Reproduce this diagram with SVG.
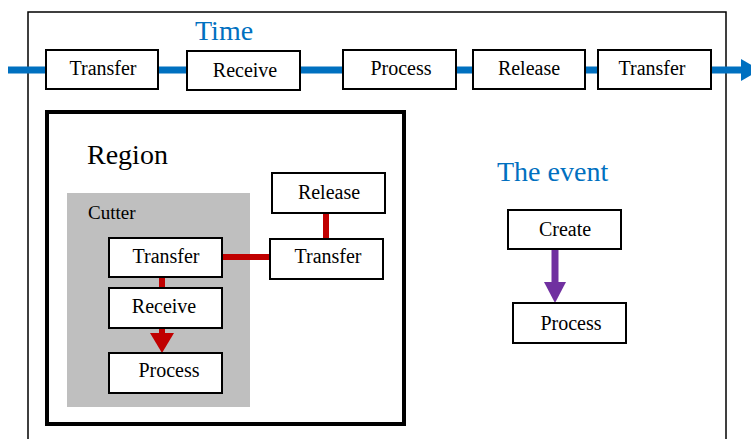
<svg xmlns="http://www.w3.org/2000/svg" width="751" height="439" viewBox="0 0 751 439">
<style>
.box{fill:#fff;stroke:#000;stroke-width:2}
.t{font-family:"Liberation Serif","Times New Roman",serif;font-size:20px;fill:#000;text-anchor:middle}
.title{font-family:"Liberation Serif","Times New Roman",serif;font-size:28px}
.blue{fill:#0070C0}
.red{stroke:#C00000;stroke-width:6;fill:none}
</style>
<rect width="751" height="439" fill="#fff"/>
<rect id="frame" x="28" y="12" width="698" height="440" fill="none" stroke="#000" stroke-width="1.5"/>
<text class="title blue" x="195" y="40">Time</text>
<g id="region">
<rect x="47" y="112" width="357" height="312" fill="none" stroke="#000" stroke-width="4"/>
<text class="title" x="87" y="164" fill="#000">Region</text>
</g>
<g id="cutter">
<rect x="67" y="193" width="183" height="214" fill="#BFBFBF"/>
<text x="88" y="219" font-family="Liberation Serif,serif" font-size="19" fill="#000">Cutter</text>
</g>
<g id="connectors">
<line x1="8" y1="70" x2="743" y2="70" stroke="#0070C0" stroke-width="7"/>
<polygon points="741,59 741,81 760,70" fill="#0070C0"/>
<line class="red" x1="222" y1="257" x2="270" y2="257"/>
<line class="red" x1="326" y1="213" x2="326" y2="239"/>
<line class="red" x1="162" y1="277" x2="162" y2="288"/>
<line class="red" x1="162" y1="328" x2="162" y2="334"/>
<polygon points="150,333 174,333 162,353" fill="#C00000"/>
<line x1="555" y1="249" x2="555" y2="283" stroke="#7030A0" stroke-width="7"/>
<polygon points="544,282 566,282 555,303" fill="#7030A0"/>
</g>
<g id="t-transfer1"><rect class="box" x="46" y="50" width="112" height="39"/><text class="t" x="103" y="75">Transfer</text></g>
<g id="t-receive"><rect class="box" x="187" y="51" width="113" height="39"/><text class="t" x="245" y="77">Receive</text></g>
<g id="t-process"><rect class="box" x="343" y="50" width="113" height="39"/><text class="t" x="401" y="75">Process</text></g>
<g id="t-release"><rect class="box" x="473" y="50" width="112" height="39"/><text class="t" x="529" y="75">Release</text></g>
<g id="t-transfer2"><rect class="box" x="598" y="50" width="113" height="39"/><text class="t" x="652" y="75">Transfer</text></g>
<g id="r-transfer"><rect class="box" x="109" y="238" width="113" height="39"/><text class="t" x="166" y="263">Transfer</text></g>
<g id="r-receive"><rect class="box" x="109" y="288" width="113" height="40"/><text class="t" x="164" y="313">Receive</text></g>
<g id="r-process"><rect class="box" x="109" y="353" width="113" height="40"/><text class="t" x="169" y="377">Process</text></g>
<g id="r-release"><rect class="box" x="272" y="173" width="113" height="40"/><text class="t" x="329" y="199">Release</text></g>
<g id="r-transfer2"><rect class="box" x="270" y="239" width="113" height="40"/><text class="t" x="328" y="263">Transfer</text></g>
<text class="title blue" x="497" y="181">The event</text>
<g id="e-create"><rect class="box" x="508" y="210" width="113" height="39"/><text class="t" x="565" y="236">Create</text></g>
<g id="e-process"><rect class="box" x="513" y="303" width="113" height="40"/><text class="t" x="571" y="330">Process</text></g>
</svg>
